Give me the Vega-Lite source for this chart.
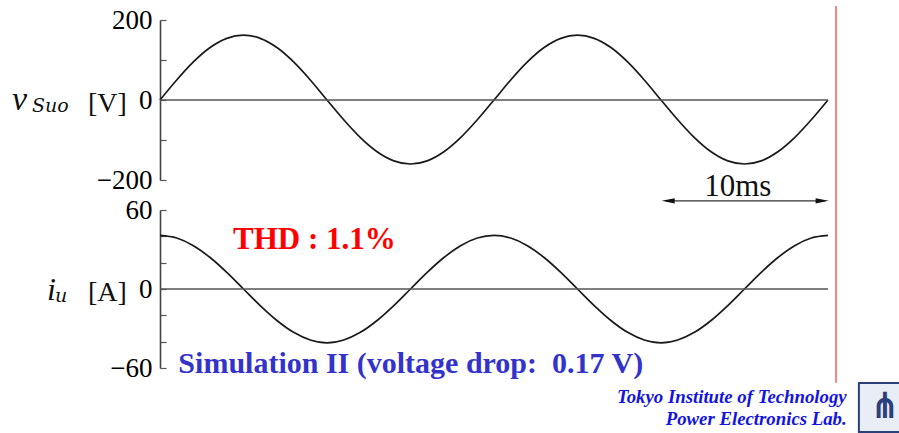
{
  "$schema": "https://vega.github.io/schema/vega-lite/v6.json",
  "autosize": {"type": "none"},
  "width": 739,
  "height": 433,
  "padding": {"left": 160, "top": 0, "right": 0, "bottom": 0},
  "background": "white",
  "config": {"view": {"stroke": null}},
  "datasets": {
    "wave": [
      {"t": 0, "v": 0, "i": 40.7},
      {"t": 1, "v": 50.1, "i": 38.7},
      {"t": 2, "v": 95.2, "i": 32.9},
      {"t": 3, "v": 131.1, "i": 23.9},
      {"t": 4, "v": 154.1, "i": 12.6},
      {"t": 5, "v": 162, "i": 0},
      {"t": 6, "v": 154.1, "i": -12.6},
      {"t": 7, "v": 131.1, "i": -23.9},
      {"t": 8, "v": 95.2, "i": -32.9},
      {"t": 9, "v": 50.1, "i": -38.7},
      {"t": 10, "v": 0, "i": -40.9},
      {"t": 11, "v": -49.4, "i": -38.7},
      {"t": 12, "v": -94.0, "i": -32.9},
      {"t": 13, "v": -129.4, "i": -23.9},
      {"t": 14, "v": -152.2, "i": -12.6},
      {"t": 15, "v": -160, "i": 0},
      {"t": 16, "v": -152.2, "i": 12.6},
      {"t": 17, "v": -129.4, "i": 23.9},
      {"t": 18, "v": -94.0, "i": 32.9},
      {"t": 19, "v": -49.4, "i": 38.7},
      {"t": 20, "v": 0, "i": 40.7},
      {"t": 21, "v": 50.1, "i": 38.7},
      {"t": 22, "v": 95.2, "i": 32.9},
      {"t": 23, "v": 131.1, "i": 23.9},
      {"t": 24, "v": 154.1, "i": 12.6},
      {"t": 25, "v": 162, "i": 0},
      {"t": 26, "v": 154.1, "i": -12.6},
      {"t": 27, "v": 131.1, "i": -23.9},
      {"t": 28, "v": 95.2, "i": -32.9},
      {"t": 29, "v": 50.1, "i": -38.7},
      {"t": 30, "v": 0, "i": -40.9},
      {"t": 31, "v": -49.4, "i": -38.7},
      {"t": 32, "v": -94.0, "i": -32.9},
      {"t": 33, "v": -129.4, "i": -23.9},
      {"t": 34, "v": -152.2, "i": -12.6},
      {"t": 35, "v": -160, "i": 0},
      {"t": 36, "v": -152.2, "i": 12.6},
      {"t": 37, "v": -129.4, "i": 23.9},
      {"t": 38, "v": -94.0, "i": 32.9},
      {"t": 39, "v": -49.4, "i": 38.7},
      {"t": 40, "v": 0, "i": 40.7}
    ]
  },
  "layer": [
    {
      "data": {"name": "wave"},
      "mark": {"type": "line", "color": "#1a1a1a", "strokeWidth": 1.7, "interpolate": "monotone"},
      "encoding": {
        "x": {"field": "t", "type": "quantitative", "scale": {"domain": [0, 40], "range": [0, 668], "nice": false, "zero": false}, "axis": null},
        "y": {
          "field": "v", "type": "quantitative",
          "scale": {"domain": [-200, 200], "range": [180, 20], "nice": false, "zero": false},
          "axis": {
            "orient": "left", "title": null, "grid": false,
            "values": [-200, -100, 0, 100, 200],
            "labelExpr": "datum.value == 100 || datum.value == -100 ? '' : datum.label",
            "tickSize": -6, "labelPadding": 14, "tickColor": "#555555", "tickWidth": 1.2,
            "domainColor": "#444444", "domainWidth": 1.6,
            "labelFont": "Liberation Serif", "labelFontSize": 27, "labelColor": "#000000",
            "labelFlush": false, "labelOverlap": false
          }
        }
      }
    },
    {
      "data": {"name": "wave"},
      "mark": {"type": "line", "color": "#1a1a1a", "strokeWidth": 1.7, "interpolate": "monotone"},
      "encoding": {
        "x": {"field": "t", "type": "quantitative", "axis": null},
        "y": {
          "field": "i", "type": "quantitative",
          "scale": {"domain": [-60, 60], "range": [368, 210], "nice": false, "zero": false},
          "axis": {
            "orient": "left", "title": null, "grid": false,
            "values": [-60, -40, -20, 0, 20, 40, 60],
            "labelExpr": "datum.value == 60 || datum.value == 0 || datum.value == -60 ? datum.label : ''",
            "tickSize": -6, "labelPadding": 14, "tickColor": "#555555", "tickWidth": 1.2,
            "domainColor": "#444444", "domainWidth": 1.6,
            "labelFont": "Liberation Serif", "labelFontSize": 27, "labelColor": "#000000",
            "labelFlush": false, "labelOverlap": false
          }
        }
      }
    },
    {
      "data": {"values": [{"t0": 0, "t1": 40, "y": 0}]},
      "mark": {"type": "rule", "color": "#555555", "strokeWidth": 1.5},
      "encoding": {
        "x": {"field": "t0", "type": "quantitative", "axis": null},
        "x2": {"field": "t1"},
        "y": {"field": "y", "type": "quantitative", "axis": null, "scale": {"domain": [-200, 200], "range": [180, 20], "nice": false, "zero": false}}
      }
    },
    {
      "data": {"values": [{"t0": 0, "t1": 40, "y": 0}]},
      "mark": {"type": "rule", "color": "#555555", "strokeWidth": 1.5},
      "encoding": {
        "x": {"field": "t0", "type": "quantitative", "axis": null},
        "x2": {"field": "t1"},
        "y": {"field": "y", "type": "quantitative", "axis": null, "scale": {"domain": [-60, 60], "range": [368, 210], "nice": false, "zero": false}}
      }
    },
    {
      "data": {"values": [{"t": 40.48, "y0": 235, "y1": -707}]},
      "mark": {"type": "rule", "color": "#ff5a5a", "strokeWidth": 1.5},
      "encoding": {
        "x": {"field": "t", "type": "quantitative", "axis": null},
        "y": {"field": "y0", "type": "quantitative", "axis": null, "scale": {"domain": [-200, 200], "range": [180, 20], "nice": false, "zero": false}},
        "y2": {"field": "y1"}
      }
    },
    {
      "data": {"values": [{"t0": 30.3, "t1": 39.8, "y": -252}]},
      "mark": {"type": "rule", "color": "#333333", "strokeWidth": 1.2},
      "encoding": {
        "x": {"field": "t0", "type": "quantitative", "axis": null},
        "x2": {"field": "t1"},
        "y": {"field": "y", "type": "quantitative", "axis": null, "scale": {"domain": [-200, 200], "range": [180, 20], "nice": false, "zero": false}}
      }
    },
    {
      "data": {"values": [{"t": 30.43, "y": -252}]},
      "mark": {"type": "point", "shape": "M -1 0 L 1 -0.4 L 1 0.4 Z", "size": 169, "filled": true, "color": "#111111", "opacity": 1},
      "encoding": {
        "x": {"field": "t", "type": "quantitative", "axis": null},
        "y": {"field": "y", "type": "quantitative", "axis": null, "scale": {"domain": [-200, 200], "range": [180, 20], "nice": false, "zero": false}}
      }
    },
    {
      "data": {"values": [{"t": 39.65, "y": -252}]},
      "mark": {"type": "point", "shape": "M 1 0 L -1 -0.4 L -1 0.4 Z", "size": 169, "filled": true, "color": "#111111", "opacity": 1},
      "encoding": {
        "x": {"field": "t", "type": "quantitative", "axis": null},
        "y": {"field": "y", "type": "quantitative", "axis": null, "scale": {"domain": [-200, 200], "range": [180, 20], "nice": false, "zero": false}}
      }
    },
    {
      "data": {"values": [{"t": 34.6, "y": -240, "label": "10ms"}]},
      "mark": {"type": "text", "font": "Liberation Serif", "fontSize": 31, "align": "center", "baseline": "alphabetic", "color": "#111111"},
      "encoding": {
        "x": {"field": "t", "type": "quantitative", "axis": null},
        "y": {"field": "y", "type": "quantitative", "axis": null, "scale": {"domain": [-200, 200], "range": [180, 20], "nice": false, "zero": false}},
        "text": {"field": "label"}
      }
    },
    {
      "data": {"values": [{"t": -8.86, "y": -25, "label": "v"}]},
      "mark": {"type": "text", "font": "Liberation Serif", "fontStyle": "italic", "fontSize": 34, "align": "left", "baseline": "alphabetic", "color": "#111111"},
      "encoding": {
        "x": {"field": "t", "type": "quantitative", "axis": null},
        "y": {"field": "y", "type": "quantitative", "axis": null, "scale": {"domain": [-200, 200], "range": [180, 20], "nice": false, "zero": false}},
        "text": {"field": "label"}
      }
    },
    {
      "data": {"values": [{"t": -7.66, "y": -31, "label": "Suo"}]},
      "mark": {"type": "text", "font": "DejaVu Serif", "fontStyle": "italic", "fontSize": 19, "align": "left", "baseline": "alphabetic", "color": "#111111"},
      "encoding": {
        "x": {"field": "t", "type": "quantitative", "axis": null},
        "y": {"field": "y", "type": "quantitative", "axis": null, "scale": {"domain": [-200, 200], "range": [180, 20], "nice": false, "zero": false}},
        "text": {"field": "label"}
      }
    },
    {
      "data": {"values": [{"t": -4.31, "y": -30, "label": "[V]"}]},
      "mark": {"type": "text", "font": "Liberation Serif", "fontSize": 28, "align": "left", "baseline": "alphabetic", "color": "#111111"},
      "encoding": {
        "x": {"field": "t", "type": "quantitative", "axis": null},
        "y": {"field": "y", "type": "quantitative", "axis": null, "scale": {"domain": [-200, 200], "range": [180, 20], "nice": false, "zero": false}},
        "text": {"field": "label"}
      }
    },
    {
      "data": {"values": [{"t": -6.77, "y": -8.35, "label": "i"}]},
      "mark": {"type": "text", "font": "Liberation Serif", "fontStyle": "italic", "fontSize": 32, "align": "left", "baseline": "alphabetic", "color": "#111111"},
      "encoding": {
        "x": {"field": "t", "type": "quantitative", "axis": null},
        "y": {"field": "y", "type": "quantitative", "axis": null, "scale": {"domain": [-60, 60], "range": [368, 210], "nice": false, "zero": false}},
        "text": {"field": "label"}
      }
    },
    {
      "data": {"values": [{"t": -6.29, "y": -9.9, "label": "u"}]},
      "mark": {"type": "text", "font": "DejaVu Serif", "fontStyle": "italic", "fontSize": 19, "align": "left", "baseline": "alphabetic", "color": "#111111"},
      "encoding": {
        "x": {"field": "t", "type": "quantitative", "axis": null},
        "y": {"field": "y", "type": "quantitative", "axis": null, "scale": {"domain": [-60, 60], "range": [368, 210], "nice": false, "zero": false}},
        "text": {"field": "label"}
      }
    },
    {
      "data": {"values": [{"t": -4.31, "y": -9.1, "label": "[A]"}]},
      "mark": {"type": "text", "font": "Liberation Serif", "fontSize": 28, "align": "left", "baseline": "alphabetic", "color": "#111111"},
      "encoding": {
        "x": {"field": "t", "type": "quantitative", "axis": null},
        "y": {"field": "y", "type": "quantitative", "axis": null, "scale": {"domain": [-60, 60], "range": [368, 210], "nice": false, "zero": false}},
        "text": {"field": "label"}
      }
    },
    {
      "data": {"values": [{"t": 4.37, "y": 30.15, "label": "THD : 1.1%"}]},
      "mark": {"type": "text", "font": "Liberation Serif", "fontWeight": "bold", "fontSize": 31, "align": "left", "baseline": "alphabetic", "color": "#ff0000"},
      "encoding": {
        "x": {"field": "t", "type": "quantitative", "axis": null},
        "y": {"field": "y", "type": "quantitative", "axis": null, "scale": {"domain": [-60, 60], "range": [368, 210], "nice": false, "zero": false}},
        "text": {"field": "label"}
      }
    },
    {
      "data": {"values": [{"t": 1.1, "y": -64, "label": "Simulation II (voltage drop:\u00a0\u00a00.17 V)"}]},
      "mark": {"type": "text", "font": "Liberation Serif", "fontWeight": "bold", "fontSize": 30, "align": "left", "baseline": "alphabetic", "color": "#3333cc"},
      "encoding": {
        "x": {"field": "t", "type": "quantitative", "axis": null},
        "y": {"field": "y", "type": "quantitative", "axis": null, "scale": {"domain": [-60, 60], "range": [368, 210], "nice": false, "zero": false}},
        "text": {"field": "label"}
      }
    },
    {
      "data": {"values": [
        {"t": 41.12, "y": -86.8, "label": "Tokyo Institute of Technology"},
        {"t": 41.12, "y": -103.3, "label": "Power Electronics Lab."}
      ]},
      "mark": {"type": "text", "font": "Liberation Serif", "fontWeight": "bold", "fontStyle": "italic", "fontSize": 18.8, "align": "right", "baseline": "alphabetic", "color": "#1414e0"},
      "encoding": {
        "x": {"field": "t", "type": "quantitative", "axis": null},
        "y": {"field": "y", "type": "quantitative", "axis": null, "scale": {"domain": [-60, 60], "range": [368, 210], "nice": false, "zero": false}},
        "text": {"field": "label"}
      }
    },
    {
      "data": {"values": [{"t0": 41.85, "t1": 44.4, "y0": -71.4, "y1": -108.6}]},
      "mark": {"type": "rect", "fill": "#e9edf5", "stroke": "#2b3f7a", "strokeWidth": 2},
      "encoding": {
        "x": {"field": "t0", "type": "quantitative", "axis": null},
        "x2": {"field": "t1"},
        "y": {"field": "y0", "type": "quantitative", "axis": null, "scale": {"domain": [-60, 60], "range": [368, 210], "nice": false, "zero": false}},
        "y2": {"field": "y1"}
      }
    },
    {
      "data": {"values": [{"t": 43.4, "y": -89.4, "label": "⋔"}]},
      "mark": {"type": "text", "font": "DejaVu Sans", "fontWeight": "bold", "fontSize": 36, "align": "center", "baseline": "middle", "color": "#2b3f7a"},
      "encoding": {
        "x": {"field": "t", "type": "quantitative", "axis": null},
        "y": {"field": "y", "type": "quantitative", "axis": null, "scale": {"domain": [-60, 60], "range": [368, 210], "nice": false, "zero": false}},
        "text": {"field": "label"}
      }
    }
  ],
  "resolve": {"scale": {"y": "independent"}}
}
